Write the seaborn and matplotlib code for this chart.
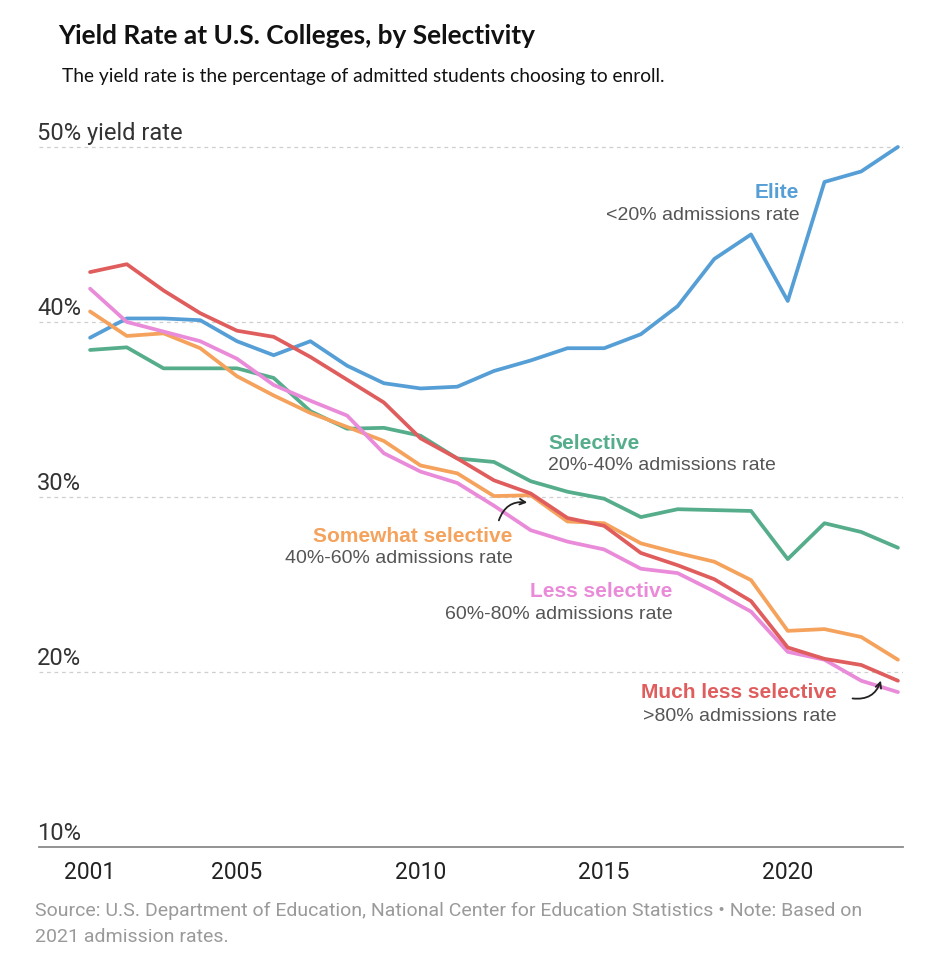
import numpy as np
import pandas as pd
import seaborn as sns
import matplotlib.pyplot as plt

sns.set_style('white')
plt.rcParams['font.family'] = ['Liberation Sans', 'DejaVu Sans']

years = list(range(2001, 2024))

# yield rate (%)
elite = [39.1, 40.2, 40.2, 40.1, 38.9, 38.1, 38.9, 37.5, 36.5, 36.2, 36.3, 37.2, 37.8,
         38.5, 38.5, 39.3, 40.9, 43.6, 45.0, 41.2, 48.0, 48.6, 50.0]
selective = [38.4, 38.55, 37.35, 37.35, 37.35, 36.8, 34.9, 33.9, 33.95, 33.5, 32.2, 32.0, 30.9,
             30.3, 29.9, 28.85, 29.3, 29.25, 29.2, 26.45, 28.5, 28.0, 27.1]
somewhat = [40.6, 39.2, 39.35, 38.5, 36.9, 35.8, 34.8, 34.0, 33.2, 31.8, 31.35, 30.05, 30.1,
            28.6, 28.5, 27.35, 26.8, 26.3, 25.25, 22.35, 22.45, 22.0, 20.7]
less = [41.9, 40.0, 39.45, 38.9, 37.9, 36.4, 35.5, 34.65, 32.5, 31.45, 30.8, 29.5, 28.1,
        27.45, 27.0, 25.9, 25.65, 24.6, 23.45, 21.15, 20.7, 19.5, 18.85]
much_less = [42.85, 43.3, 41.8, 40.5, 39.5, 39.15, 38.0, 36.7, 35.4, 33.35, 32.2, 30.95, 30.2,
             28.8, 28.35, 26.8, 26.1, 25.3, 24.05, 21.4, 20.75, 20.4, 19.5]

groups = ['Elite', 'Selective', 'Somewhat selective', 'Less selective', 'Much less selective']
rates = [elite, selective, somewhat, less, much_less]
colors = {'Elite': '#569fd6', 'Selective': '#55ad8b', 'Somewhat selective': '#f5a25c',
          'Less selective': '#e98bd9', 'Much less selective': '#e05d5d'}
subtitles = ['<20% admissions rate', '20%-40% admissions rate', '40%-60% admissions rate',
             '60%-80% admissions rate', '>80% admissions rate']

df = pd.DataFrame({
    'year': years * len(groups),
    'rate': [v for r in rates for v in r],
    'group': [g for g in groups for _ in years],
})

fig = plt.figure(figsize=(9.36, 9.74), dpi=100)
ax = fig.add_axes([0.0417, 0.1304, 0.9231, 0.7367])

sns.lineplot(data=df, x='year', y='rate', hue='group', hue_order=groups,
             palette=colors, linewidth=2.7, legend=False, ax=ax, clip_on=False)

ax.set_xlim(1999.61, 2023.14)
ax.set_ylim(10, 51)

# dashed grid
for v in [20, 30, 40, 50]:
    ax.axhline(v, color='#cfcfcf', lw=0.9, ls=(0, (3, 3)), zorder=0)

for s in ['top', 'right', 'left']:
    ax.spines[s].set_visible(False)
ax.spines['bottom'].set_color('#8a8a8a')
ax.spines['bottom'].set_linewidth(1.3)

axis_font = ['Roboto', 'DejaVu Sans']
ax.set_xticks([2001, 2005, 2010, 2015, 2020])
ax.set_xticklabels(['2001', '2005', '2010', '2015', '2020'],
                   family=axis_font, fontsize=16.5, color='#222222')
ax.tick_params(axis='x', length=6, width=1, color='#8a8a8a', pad=4)
ax.set_yticks([])
ax.set_xlabel('')
ax.set_ylabel('')

ylabels = ['10%', '20%', '30%', '40%', '50% yield rate']
for v, t in zip([10, 20, 30, 40, 50], ylabels):
    ax.text(-0.002, v + 0.4, t, transform=ax.get_yaxis_transform(), ha='left', va='baseline',
            fontsize=17, color='#333333', family=axis_font)

# series labels
label_pos = [
    (2020.31, 47.07, 45.83, 'right'),
    (2013.48, 32.74, 31.54, 'left'),
    (2012.51, 27.45, 26.21, 'right'),
    (2016.86, 24.27, 23.0, 'right'),
    (2021.33, 18.5, 17.22, 'right'),
]
for g, sub, (x, y1, y2, ha) in zip(groups, subtitles, label_pos):
    ax.text(x, y1, g, ha=ha, va='baseline', fontsize=15, fontweight='bold', color=colors[g])
    ax.text(x, y2, sub, ha=ha, va='baseline', fontsize=14, color='#555555')

ax.annotate('', xy=(2012.98, 29.66), xytext=(2012.11, 28.51),
            arrowprops=dict(arrowstyle='->', color='#222222', lw=1.3,
                            connectionstyle='arc3,rad=-0.45'))
ax.annotate('', xy=(2022.56, 19.66), xytext=(2021.69, 18.51),
            arrowprops=dict(arrowstyle='->', color='#222222', lw=1.3,
                            connectionstyle='arc3,rad=0.45'))

fig.text(0.062, 0.955, 'Yield Rate at U.S. Colleges, by Selectivity',
         family=['Lato', 'DejaVu Sans'], fontweight='bold', fontsize=18.9, color='#111111')
fig.text(0.066, 0.916, 'The yield rate is the percentage of admitted students choosing to enroll.',
         family=['Lato', 'DejaVu Sans'], fontsize=13.8, color='#111111')

fig.text(0.037, 1 - 916 / 974, 'Source: U.S. Department of Education, National Center for Education '
         'Statistics \u2022 Note: Based on', fontsize=14, color='#9a9a9a',
         family=['Roboto', 'DejaVu Sans'])
fig.text(0.037, 1 - 942 / 974, '2021 admission rates.', fontsize=14, color='#9a9a9a',
         family=['Roboto', 'DejaVu Sans'])

fig.savefig('out.png', dpi=100)
